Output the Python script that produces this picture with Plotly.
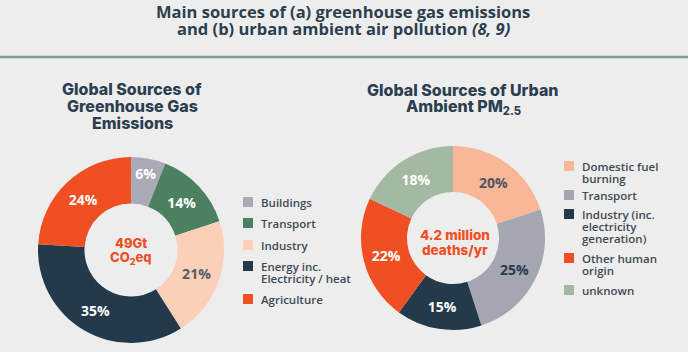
import plotly.graph_objects as go

# ---- data ----
ghg_labels = ["Buildings", "Transport", "Industry", "Energy inc.<br>Electricity / heat", "Agriculture"]
ghg_values = [6, 14, 21, 35, 24]
ghg_colors = ["#A9AAB5", "#4B8060", "#FCD0B8", "#233A4D", "#F04E23"]
ghg_text_colors = ["white", "white", "#555C66", "white", "white"]

pm_labels = ["Domestic fuel<br>burning", "Transport", "Industry (inc.<br>electricity<br>generation)", "Other human<br>origin", "unknown"]
pm_values = [20, 25, 15, 22, 18]
pm_colors = ["#F9B797", "#A4A6B1", "#233A4D", "#F04E23", "#A4B9A2"]
pm_text_colors = ["#4D5560", "#2A3B4D", "white", "white", "white"]

title_lines = ["Main sources of (a) greenhouse gas emissions",
               "and (b) urban ambient air pollution <i>(8, 9)</i>"]
ghg_title_lines = ["Global Sources of", "Greenhouse Gas", "Emissions"]
pm_title_lines = ["Global Sources of Urban", "Ambient PM<sub>2.5</sub>"]
ghg_center_lines = ["49Gt", "CO<sub>2</sub>eq"]
pm_center_lines = ["4.2 million", "deaths/yr"]

W, H = 688, 352
BG = "#EDEDED"
DARK = "#2B3F50"
ORANGE = "#F04E23"

fig = go.Figure()

def px_x(x):
    return x / W

def px_y(y):
    return 1 - y / H

fig.add_trace(go.Pie(
    labels=ghg_labels, values=ghg_values, sort=False, direction="clockwise", rotation=0,
    hole=0.5, marker=dict(colors=ghg_colors, line=dict(width=0)),
    texttemplate="%{value}%", textposition="inside", insidetextorientation="horizontal",
    textfont=dict(color=ghg_text_colors, size=14, family="Open Sans", weight="bold"),
    domain=dict(x=[px_x(131 - 93), px_x(131 + 93)], y=[px_y(343), px_y(157)]),
    showlegend=False, hoverinfo="label+percent",
))

fig.add_trace(go.Pie(
    labels=pm_labels, values=pm_values, sort=False, direction="clockwise", rotation=0,
    hole=0.5, marker=dict(colors=pm_colors, line=dict(width=0)),
    texttemplate="%{value}%", textposition="inside", insidetextorientation="horizontal",
    textfont=dict(color=pm_text_colors, size=14, family="Open Sans", weight="bold"),
    domain=dict(x=[px_x(453 - 92), px_x(453 + 92)], y=[px_y(330), px_y(146)]),
    showlegend=False, hoverinfo="label+percent",
))

ann = []

def add_lines(lines, cx, ys, family, size, color, weight):
    for line, y in zip(lines, ys):
        ann.append(dict(
            x=px_x(cx), y=px_y(y), xref="paper", yref="paper", xanchor="center", yanchor="middle",
            text=line, showarrow=False, align="center",
            font=dict(family=family, size=size, color=color, weight=weight),
        ))

add_lines(title_lines, 343, [11, 28], "Open Sans", 16.5, DARK, 700)
add_lines(ghg_title_lines, 132, [89, 106, 123], "Inter", 16, DARK, 800)
add_lines(pm_title_lines, 463, [90, 107], "Inter", 16, DARK, 800)
add_lines(ghg_center_lines, 131, [243, 258], "Inter", 13, ORANGE, 800)
add_lines(pm_center_lines, 455, [235, 250], "Inter", 13.5, ORANGE, 800)

shapes = []
shapes.append(dict(type="line", xref="paper", yref="paper", x0=0, x1=1, y0=px_y(57), y1=px_y(57),
                   line=dict(color="#79A288", width=2.5)))

def add_legend(labels, colors, sq_x, txt_x, ys, step=12):
    for lab, col, y in zip(labels, colors, ys):
        shapes.append(dict(type="rect", xref="paper", yref="paper",
                           x0=px_x(sq_x - 5), x1=px_x(sq_x + 5), y0=px_y(y + 5), y1=px_y(y - 5),
                           fillcolor=col, line=dict(width=0)))
        for i, part in enumerate(lab.split("<br>")):
            ann.append(dict(x=px_x(txt_x), y=px_y(y + i * step), xref="paper", yref="paper",
                            xanchor="left", yanchor="middle", text=part, showarrow=False,
                            align="left",
                            font=dict(family="Open Sans", size=11.5, color="#3E4A55", weight=600)))

add_legend(ghg_labels, ghg_colors, 248, 259, [202, 223, 245, 266, 299])
add_legend(pm_labels, pm_colors, 569, 580, [166, 195, 214, 258, 290])

fig.update_layout(
    width=W, height=H, margin=dict(l=0, r=0, t=0, b=0),
    paper_bgcolor=BG, plot_bgcolor=BG,
    annotations=ann, shapes=shapes, showlegend=False,
)

fig.write_html("out.html")
